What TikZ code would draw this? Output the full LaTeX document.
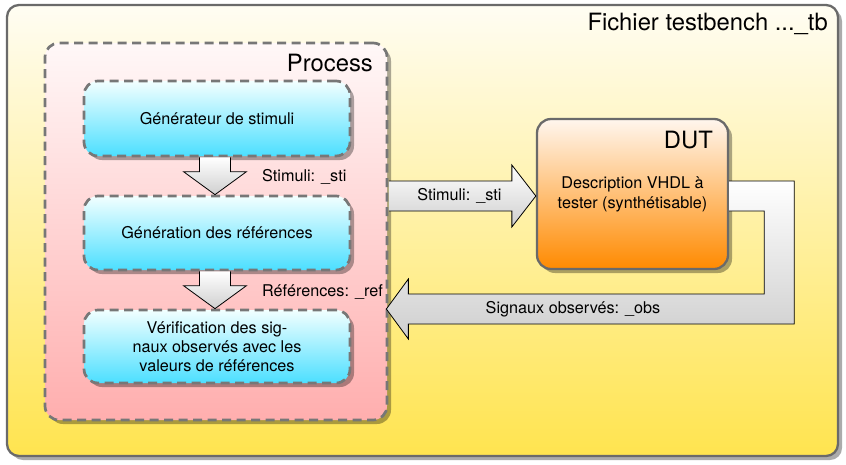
\documentclass[tikz,border=0pt]{standalone}
\usepackage{fontspec}
\setmainfont{TeX Gyre Heros}
\usetikzlibrary{calc,shadows}

\definecolor{framegray}{HTML}{6A6A6A}
\definecolor{dashgray}{HTML}{777777}
\definecolor{yelTop}{HTML}{FFFDF3}
\definecolor{yelBot}{HTML}{FFE44F}
\definecolor{pinkTop}{HTML}{FFF8F8}
\definecolor{pinkBot}{HTML}{FFAEAE}
\definecolor{cyanTop}{HTML}{F2FFFF}
\definecolor{cyanBot}{HTML}{4CDFFF}
\definecolor{orTop}{HTML}{FFF6EE}
\definecolor{orBot}{HTML}{FF8A00}
\definecolor{arrBot}{HTML}{CFCFCF}

\tikzset{
  shadowed/.style={drop shadow={shadow xshift=4pt, shadow yshift=-4pt, opacity=.33, fill=black}},
  framebox/.style={rounded corners=12pt, draw=framegray, line width=2.3pt,
    top color=yelTop, bottom color=yelBot, shadowed},
  procbox/.style={rounded corners=14pt, draw=dashgray, line width=2.7pt,
    dash pattern=on 9pt off 5.5pt, top color=pinkTop, bottom color=pinkBot, shadowed},
  stepbox/.style={rounded corners=14pt, draw=dashgray, line width=2.7pt,
    dash pattern=on 9pt off 5.5pt, top color=cyanTop, bottom color=cyanBot, shadowed,
    minimum width=266pt, align=center, font=\fontsize{16.2}{19}\selectfont},
  dutbox/.style={rounded corners=14pt, draw=framegray, line width=2.3pt,
    top color=orTop, bottom color=orBot, shadowed, align=center,
    font=\fontsize{16.2}{20}\selectfont},
  arrfill/.style={top color=white, bottom color=arrBot, draw=none},
  arredge/.style={draw=black, line width=0.8pt, line join=miter},
  lbl/.style={font=\fontsize{16.2}{19}\selectfont, inner sep=0pt},
  title/.style={font=\fontsize{23.8}{27}\selectfont, inner sep=0pt}
}

\begin{document}
\begin{tikzpicture}[x=1pt,y=-1pt]
\useasboundingbox (0,0) rectangle (846,464);

% testbench file frame
\node[framebox, minimum width=831pt, minimum height=451pt] (tb) at (422.5,230.5) {};
\node[title, anchor=east] (tbt) at (828,24) {Fichier testbench ...\_tb};

% process container
\node[procbox, minimum width=342pt, minimum height=377pt] (proc) at (216,231.5) {};
\node[title, anchor=east] (proct) at (373,63) {Process};

% process steps
\node[stepbox, minimum height=75pt] (gen) at (217,118.5) {Générateur de stimuli};
\node[stepbox, minimum height=74pt] (refs) at (217,233) {Génération des références};
\node[stepbox, minimum height=73pt] (chk) at (217,346.5)
  {Vérification des sig-\\naux observés avec les\\valeurs de références};

% device under test
\node[dutbox, minimum width=191pt, minimum height=150pt] (dut) at (632.5,194)
  {Description VHDL à\\tester (synthétisable)};
\node[title, anchor=east] (dutt) at (713,140) {DUT};

% down arrows between steps
\foreach \a/\b in {gen/refs, refs/chk}{
  \coordinate (top) at ($(\a.south)+(-2,0)$);
  \coordinate (tip) at ($(\b.north)+(-2,0)$);
  \path[arrfill] ($(top)+(-15.5,0)$) -- ($(top)+(15.5,0)$) -- ($(tip)+(15.5,-23)$)
    -- ($(tip)+(31.5,-23)$) -- (tip) -- ($(tip)+(-31.5,-23)$) -- ($(tip)+(-15.5,-23)$) -- cycle;
  \draw[arredge] ($(top)+(-15.5,0)$) -- ($(tip)+(-15.5,-23)$) -- ($(tip)+(-31.5,-23)$)
    -- (tip) -- ($(tip)+(31.5,-23)$) -- ($(tip)+(15.5,-23)$) -- ($(top)+(15.5,0)$);
}
\node[lbl, anchor=west] (l1) at (262,177) {Stimuli: \_sti};
\node[lbl, anchor=west] (l2) at (262,292) {Références: \_ref};

% stimuli arrow to the DUT
\coordinate (sT) at ($(dut.west)+(0,2)$);
\coordinate (sS) at ($(proc.east |- sT)+(0.5,0)$);
\path[arrfill] ($(sS)+(0,-15)$) -- ($(sT)+(-24,-15)$) -- ($(sT)+(-24,-31)$) -- (sT)
  -- ($(sT)+(-24,31)$) -- ($(sT)+(-24,15)$) -- ($(sS)+(0,15)$) -- cycle;
\draw[arredge] ($(sS)+(0,-15)$) -- ($(sT)+(-24,-15)$) -- ($(sT)+(-24,-31)$) -- (sT)
  -- ($(sT)+(-24,31)$) -- ($(sT)+(-24,15)$) -- ($(sS)+(0,15)$);
\node[lbl] (l3) at ($(sS)!0.5!(sT)+(-3,0)$) {Stimuli: \_sti};

% observed signals arrow back to the process
\coordinate (oS) at ($(dut.east)+(0,2)$);
\coordinate (oT) at ($(proc.east)+(-2,77.5)$);
\path[arrfill] ($(oS)+(0,-15)$) -- ($(oS)+(65,-15)$) -- ($(oS)+(65,128)$)
  -- ($(oT)+(22,15)$) -- ($(oT)+(22,30)$) -- (oT) -- ($(oT)+(22,-30)$) -- ($(oT)+(22,-15)$)
  -- ($(oS)+(35,98)$) -- ($(oS)+(35,15)$) -- ($(oS)+(0,15)$) -- cycle;
\draw[arredge] ($(oS)+(0,-15)$) -- ($(oS)+(65,-15)$) -- ($(oS)+(65,128)$)
  -- ($(oT)+(22,15)$) -- ($(oT)+(22,30)$) -- (oT) -- ($(oT)+(22,-30)$) -- ($(oT)+(22,-15)$)
  -- ($(oS)+(35,98)$) -- ($(oS)+(35,15)$) -- ($(oS)+(0,15)$);
\node[lbl] (l4) at (573,309) {Signaux observés: \_obs};
\end{tikzpicture}
\end{document}
